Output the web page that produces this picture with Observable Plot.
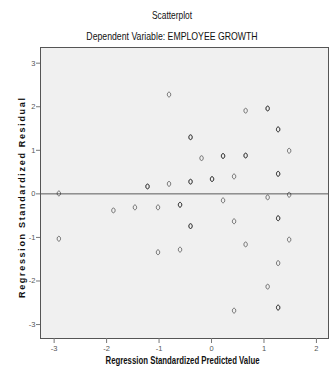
<!DOCTYPE html>
<html>
<head>
<meta charset="utf-8">
<script src="https://cdn.jsdelivr.net/npm/d3@7"></script>
<script src="https://cdn.jsdelivr.net/npm/@observablehq/plot@0.6"></script>
<style>
  html, body { margin: 0; padding: 0; background: #ffffff; }
  #wrap { width: 330px; height: 381px; position: relative; overflow: hidden; }
  .hdr { position: absolute; left: 0; width: 344px; text-align: center;
         font-family: "Liberation Sans", Arial, sans-serif;
         color: #111; white-space: nowrap; transform-origin: 172px 50%; }
  #title { top: 9px; font-size: 10.5px; line-height: 12px; transform: scaleX(0.8); }
  #subtitle { top: 30px; font-size: 10.5px; line-height: 13px; transform: scaleX(0.83); }
  #chart { position: absolute; left: 0; top: 44px; }
  #chart svg { display: block; }
</style>
</head>
<body>
<div id="wrap">
  <div id="title" class="hdr">Scatterplot</div>
  <div id="subtitle" class="hdr">Dependent Variable: EMPLOYEE GROWTH</div>
  <div id="chart"></div>
</div>
<script>
// Regression standardized predicted values (x) and residuals (y), one entry per case;
// repeated pairs are cases that fall on the same spot.
const predicted = [
  -2.91, -2.91, -1.87, -1.46, -1.22, -1.22, -1.02, -1.02, -0.81, -0.81,
  -0.60, -0.60, -0.60, -0.40, -0.40, -0.40, -0.40, -0.40, -0.40, -0.19,
   0.01,  0.01,  0.22,  0.22,  0.22,  0.43,  0.43,  0.43,  0.65,  0.65,
   0.65,  0.65,  1.07,  1.07,  1.07,  1.07,  1.27,  1.27,  1.27,  1.27,
   1.27,  1.27,  1.27,  1.27,  1.27,  1.48,  1.48,  1.48
];
const residual = [
   0.01, -1.03, -0.38, -0.31,  0.17,  0.17, -0.31, -1.34,  2.28,  0.23,
  -0.25, -0.25, -1.28,  1.30,  1.30,  0.28,  0.28, -0.74, -0.74,  0.82,
   0.34,  0.34,  0.87,  0.87, -0.15,  0.40, -0.63, -2.68,  1.91,  0.88,
   0.88, -1.16,  1.96,  1.96, -0.08, -2.13,  1.48,  1.48,  0.46,  0.46,
  -0.56, -0.56, -1.59, -2.61, -2.61,  0.99, -0.02, -1.05
];
const xTicks = [-3, -2, -1, 0, 1, 2];
const yTicks = [-3, -2, -1, 0, 1, 2, 3];
const xLabel = "Regression Standardized Predicted Value";
const yLabel = "Regression Standardized Residual";

const cases = predicted.map((p, i) => ({predicted: p, residual: residual[i]}));

// Small upright ellipse, like the "o" markers of the statistics package.
const ovalSymbol = {
  draw(ctx) {
    const rx = 1.7, ry = 2.4, k = 0.5523;
    ctx.moveTo(0, -ry);
    ctx.bezierCurveTo(rx * k, -ry, rx, -ry * k, rx, 0);
    ctx.bezierCurveTo(rx, ry * k, rx * k, ry, 0, ry);
    ctx.bezierCurveTo(-rx * k, ry, -rx, ry * k, -rx, 0);
    ctx.bezierCurveTo(-rx, -ry * k, -rx * k, -ry, 0, -ry);
    ctx.closePath();
  }
};

const font = `"Liberation Sans", Arial, sans-serif`;

const chart = Plot.plot({
  width: 330,
  height: 337,
  marginTop: 3,
  marginBottom: 43,
  marginLeft: 40,
  marginRight: 2,
  style: {fontFamily: font, background: "transparent"},
  x: {domain: [-3.26, 2.23]},
  y: {domain: [-3.32, 3.36]},
  marks: [
    Plot.frame({fill: "#f0f0f0", stroke: "none"}),
    Plot.ruleY([0], {stroke: "#5a5a5a", strokeWidth: 1}),
    Plot.dot(cases, {
      x: "predicted", y: "residual", symbol: ovalSymbol, r: 2,
      fill: "none", stroke: "#1e1e1e", strokeOpacity: 0.58, strokeWidth: 1
    }),
    Plot.frame({stroke: "#555555", strokeWidth: 1}),
    Plot.axisX(xTicks, {
      tickSize: 5, tickPadding: 2, fontSize: 7.5, stroke: "#777", color: "#555",
      tickFormat: d => String(d), label: null, className: "xtick"
    }),
    Plot.axisY(yTicks, {
      tickSize: 4, tickPadding: 1, fontSize: 7.5, stroke: "#777", color: "#555",
      tickFormat: d => String(d), label: null, className: "ytick"
    }),
    Plot.text([xLabel], {
      frameAnchor: "bottom", dy: 25, dx: -2, text: d => d, textAnchor: "middle",
      fontSize: 10, fontWeight: "bold", fill: "#111", className: "xlab"
    }),
    Plot.text([yLabel], {
      frameAnchor: "left", dx: -18, dy: 5, rotate: -90, text: d => d, textAnchor: "middle",
      fontSize: 9, fontWeight: "bold", fill: "#111", className: "ylab"
    })
  ]
});

// Condensed axis titles: fit each title to its drawn length.
chart.querySelectorAll(".xlab text").forEach(t => {
  t.setAttribute("textLength", 154);
  t.setAttribute("lengthAdjust", "spacingAndGlyphs");
});
chart.querySelectorAll(".ylab text").forEach(t => {
  t.setAttribute("textLength", 200);
  t.setAttribute("lengthAdjust", "spacing");
});
// Narrow tick numerals.
chart.querySelectorAll(".xtick text, .ytick text").forEach(t => {
  t.setAttribute("font-stretch", "condensed");
});

document.getElementById("chart").appendChild(chart);
</script>
</body>
</html>
